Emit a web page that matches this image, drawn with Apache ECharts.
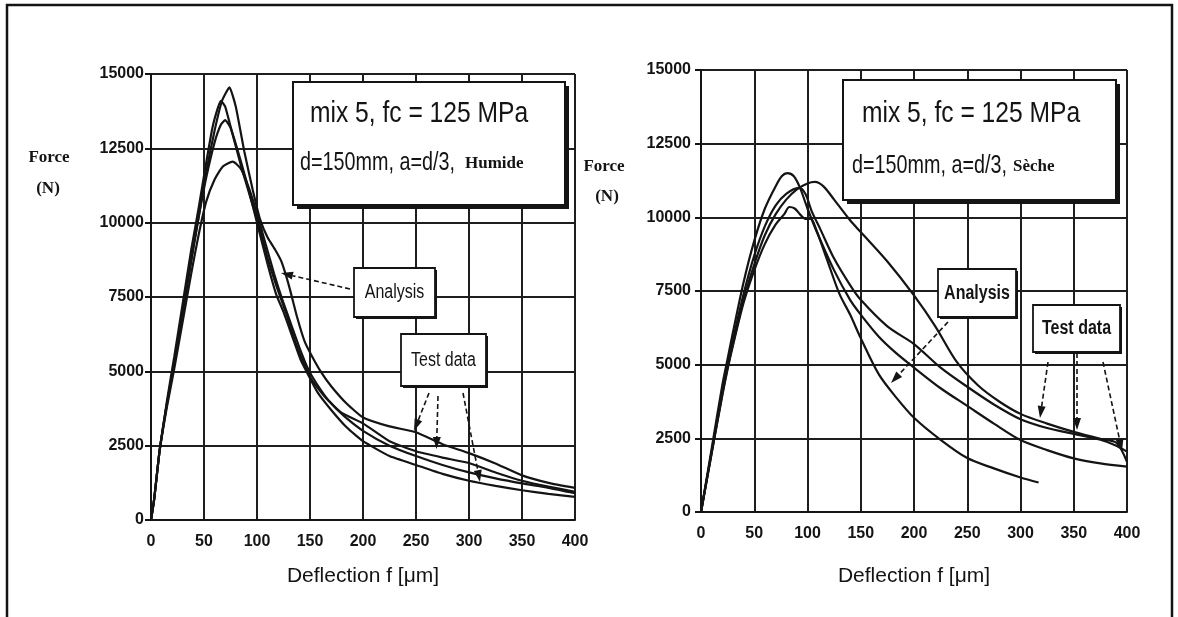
<!DOCTYPE html>
<html><head><meta charset="utf-8">
<script src="https://cdn.jsdelivr.net/npm/echarts@6/dist/echarts.min.js"></script>
<style>html,body{margin:0;padding:0;background:#fff}#c{width:1178px;height:617px}</style>
</head><body><div id="c"></div>
<script>
// ---- data (deflection µm, force N) ----
const xMin = 0, xMax = 400, xStep = 50;
const yMin = 0, yMax = 15000, yStep = 2500;

// Humide (left panel)
const humideTestA = [[0,0],[3,700],[8,2300],[15,3900],[22,5300],[30,7000],[38,8700],[45,10200],[52,11700],[60,13100],[67,14100],[74,14550],[80,13900],[88,12400],[96,11100],[103,10100],[110,9500],[117,9100],[123,8700],[130,7900],[138,6800],[145,6000],[152,5500],[160,5000],[170,4500],[185,3900],[200,3450],[225,3150],[250,2950],[275,2550],[300,2250],[325,1900],[350,1500],[375,1250],[400,1080]];
const humideTestB = [[0,0],[3,700],[8,2300],[15,4000],[22,5500],[30,7300],[38,9100],[45,10500],[52,12000],[58,13200],[63,13850],[66,14100],[70,13900],[76,13100],[85,11900],[95,10700],[102,9900],[110,8800],[120,7700],[128,6900],[136,6000],[145,5200],[152,4700],[165,4100],[180,3600],[200,3250],[225,2650],[250,2310],[275,2100],[300,1915],[325,1600],[350,1320],[375,1120],[400,950]];
const humideTestC = [[0,0],[3,700],[8,2300],[15,3900],[22,5300],[30,7000],[38,8800],[45,10200],[52,11500],[60,12700],[66,13300],[70,13450],[75,13200],[82,12400],[90,11400],[100,10000],[110,8600],[118,7600],[125,7000],[133,6200],[141,5400],[148,4900],[157,4300],[170,3700],[185,3100],[200,2650],[225,2150],[250,1850],[275,1550],[300,1320],[325,1150],[350,1000],[375,880],[400,780]];
const humideAnalysis = [[0,0],[3,700],[8,2300],[15,3800],[22,5100],[30,6700],[38,8300],[45,9600],[52,10700],[60,11450],[68,11900],[77,12050],[85,11800],[93,11100],[100,10300],[108,9300],[116,8300],[124,7400],[132,6600],[140,5800],[148,5100],[156,4600],[168,4000],[182,3500],[200,3000],[225,2500],[250,2150],[275,1850],[300,1600],[325,1400],[350,1230],[375,1080],[400,900]];

// Sèche (right panel)
const secheTop = [[0,0],[10,2000],[20,4000],[25,4900],[30,5700],[40,7200],[50,8400],[60,9400],[70,10100],[80,10600],[90,10950],[100,11150],[107,11200],[115,11050],[125,10600],[140,9900],[150,9500],[175,8500],[200,7350],[220,6300],[240,5100],[260,4300],[280,3750],[300,3330],[325,3000],[350,2720],[375,2480],[390,2350],[400,1700]];
const secheSecond = [[0,0],[10,2050],[20,4100],[25,5000],[30,5850],[40,7400],[50,8700],[60,9700],[70,10400],[80,10800],[92,11000],[98,10800],[104,10200],[112,9600],[125,8600],[140,7700],[150,7200],[175,6300],[200,5700],[225,4900],[250,4250],[275,3650],[300,3150],[325,2850],[350,2650],[375,2450],[390,2250],[400,2050]];
const secheMiddle = [[0,0],[10,2150],[20,4300],[25,5200],[30,6100],[40,7800],[50,9200],[60,10300],[70,11050],[76,11400],[81,11500],[87,11400],[93,11000],[100,10300],[110,9400],[125,8200],[140,7200],[150,6700],[167,5950],[183,5400],[200,4900],[225,4200],[250,3600],[275,3000],[300,2440],[325,2100],[350,1820],[375,1650],[400,1540]];
const secheLow = [[0,0],[10,2000],[20,3950],[25,4850],[30,5650],[40,7100],[50,8200],[60,9100],[70,9750],[78,10100],[83,10350],[88,10300],[93,10100],[98,9950],[103,9950],[108,9600],[118,8600],[130,7400],[140,6700],[150,5900],[167,4670],[183,3900],[200,3200],[225,2450],[250,1830],[275,1480],[300,1170],[317,1000]];

const panelTitle = 'mix 5, fc = 125 MPa';
const panelSub = 'd=150mm, a=d/3, ';
const panelCond = ['Humide', 'Sèche'];
const xName = 'Deflection f [μm]';

// ---- chart ----
const SANS = '"Liberation Sans", Arial, sans-serif';
const SERIF = '"Liberation Serif", "Times New Roman", serif';
const INK = '#141414';
const plain = function (v) { return String(v); };

function xAxis(gi, gap) {
  return {
    type: 'value', gridIndex: gi, min: xMin, max: xMax, interval: xStep,
    name: xName, nameLocation: 'middle', nameGap: gap,
    nameTextStyle: { fontFamily: SANS, fontSize: 21, color: INK },
    axisLine: { show: true, onZero: false, lineStyle: { color: INK, width: 2 } },
    axisTick: { show: false },
    axisLabel: { margin: 14, fontFamily: SANS, fontSize: 16, fontWeight: 'bold', color: INK, formatter: plain },
    splitLine: { show: true, lineStyle: { color: '#1e1e1e', width: 2 } }
  };
}
function yAxis(gi, margin) {
  return {
    type: 'value', gridIndex: gi, min: yMin, max: yMax, interval: yStep,
    axisLine: { show: true, lineStyle: { color: INK, width: 2 } },
    axisTick: { show: true, length: 6, lineStyle: { color: INK, width: 2 } },
    axisLabel: { margin: margin, fontFamily: SANS, fontSize: 16, fontWeight: 'bold', color: INK, formatter: plain },
    splitLine: { show: true, lineStyle: { color: '#1e1e1e', width: 2 } }
  };
}
function line(data, gi, smooth) {
  return { type: 'line', data: data, xAxisIndex: gi, yAxisIndex: gi, showSymbol: false, smooth: smooth,
    lineStyle: { color: INK, width: 2.2 }, silent: true, animation: false };
}

function textEl(x, y, text, font, opts) {
  return Object.assign({ type: 'text', x: x, y: y, z: 110,
    style: { text: text, x: 0, y: 0, font: font, fill: INK, textAlign: 'left', textVerticalAlign: 'middle' } }, opts || {});
}
function ctext(x, y, text, font, sx) {
  return { type: 'text', x: x, y: y, z: 110, scaleX: sx || 1,
    style: { text: text, x: 0, y: 0, font: font, fill: INK, textAlign: 'center', textVerticalAlign: 'middle' } };
}
function boxEl(x1, y1, x2, y2, shadow, lw) {
  const els = [];
  if (shadow) els.push({ type: 'rect', z: 104, shape: { x: x1 + shadow, y: y1 + shadow, width: x2 - x1, height: y2 - y1 }, style: { fill: INK } });
  els.push({ type: 'rect', z: 105, shape: { x: x1, y: y1, width: x2 - x1, height: y2 - y1 }, style: { fill: '#fff', stroke: INK, lineWidth: lw } });
  return els;
}
function arrowEl(x1, y1, x2, y2, dashed) {
  const dx = x2 - x1, dy = y2 - y1, L = Math.hypot(dx, dy), ux = dx / L, uy = dy / L;
  const hl = 12, hw = 4;
  const bx = x2 - ux * hl, by = y2 - uy * hl;
  return [
    { type: 'line', z: 106, shape: { x1: x1, y1: y1, x2: bx, y2: by }, style: { stroke: INK, lineWidth: 1.6, lineDash: dashed ? [5, 3] : null } },
    { type: 'polygon', z: 106, shape: { points: [[x2, y2], [bx - uy * hw, by + ux * hw], [bx + uy * hw, by - ux * hw]] }, style: { fill: INK } }
  ];
}

const graphics = [];
// outer frame
graphics.push({ type: 'polyline', z: 120, shape: { points: [[7, 617], [7, 5], [1172, 5], [1172, 617]] }, style: { stroke: INK, lineWidth: 2.5, fill: null } });
// Force (N) labels
graphics.push(ctext(49, 158, 'Force', 'bold 17px ' + SERIF));
graphics.push(ctext(48, 189, '(N)', 'bold 17px ' + SERIF));
graphics.push(ctext(604, 167, 'Force', 'bold 17px ' + SERIF));
graphics.push(ctext(607, 197, '(N)', 'bold 17px ' + SERIF));

// title boxes
const boxes = [
  { b: [293, 82, 565, 205], tx: 310, ty: 114, sx: 300, sy: 163, cx: 465, cond: panelCond[0] },
  { b: [843, 80, 1116, 200], tx: 862, ty: 114, sx: 852, sy: 166, cx: 1013, cond: panelCond[1] }
];
boxes.forEach(function (o) {
  boxEl(o.b[0], o.b[1], o.b[2], o.b[3], 4, 2).forEach(function (e) { graphics.push(e); });
  graphics.push(textEl(o.tx, o.ty, panelTitle, '30px ' + SANS, { scaleX: 0.82 }));
  graphics.push(textEl(o.sx, o.sy, panelSub, '26px ' + SANS, { scaleX: 0.76 }));
  graphics.push(textEl(o.cx, o.sy + 1, o.cond, 'bold 17px ' + SERIF));
});

// callout boxes
function callout(x1, y1, x2, y2, text, weight) {
  boxEl(x1, y1, x2, y2, 2, 1.8).forEach(function (e) { graphics.push(e); });
  graphics.push(ctext((x1 + x2) / 2, (y1 + y2) / 2, text, weight + ' 20px ' + SANS, 0.8));
}
callout(354, 268, 435, 317, 'Analysis', 'normal');
callout(401, 334, 486, 386, 'Test data', 'normal');
callout(938, 269, 1016, 317, 'Analysis', 'bold');
callout(1033, 305, 1120, 352, 'Test data', 'bold');

// arrows
[[350, 289, 281, 273], [429, 393, 414, 431], [438, 396, 436.5, 449], [463, 393, 480, 482],
 [948, 322, 891, 383], [1048, 362, 1040, 418], [1077, 353, 1077, 430], [1103, 362, 1122, 451]]
  .forEach(function (a) { arrowEl(a[0], a[1], a[2], a[3], true).forEach(function (e) { graphics.push(e); }); });

const chart = echarts.init(document.getElementById('c'));
chart.setOption({
  backgroundColor: '#fff',
  animation: false,
  grid: [
    { left: 151, top: 74, width: 424, height: 446 },
    { left: 701, top: 70, width: 426, height: 442 }
  ],
  xAxis: [xAxis(0, 46), xAxis(1, 54)],
  yAxis: [yAxis(0, 7), yAxis(1, 10)],
  series: [
    line(humideTestA, 0, 0.15), line(humideTestB, 0, 0.15), line(humideTestC, 0, 0.15), line(humideAnalysis, 0, 0.2),
    line(secheTop, 1, 0.3), line(secheSecond, 1, 0.3), line(secheMiddle, 1, 0.3), line(secheLow, 1, 0.3)
  ],
  graphic: graphics
});
</script>
</body></html>
